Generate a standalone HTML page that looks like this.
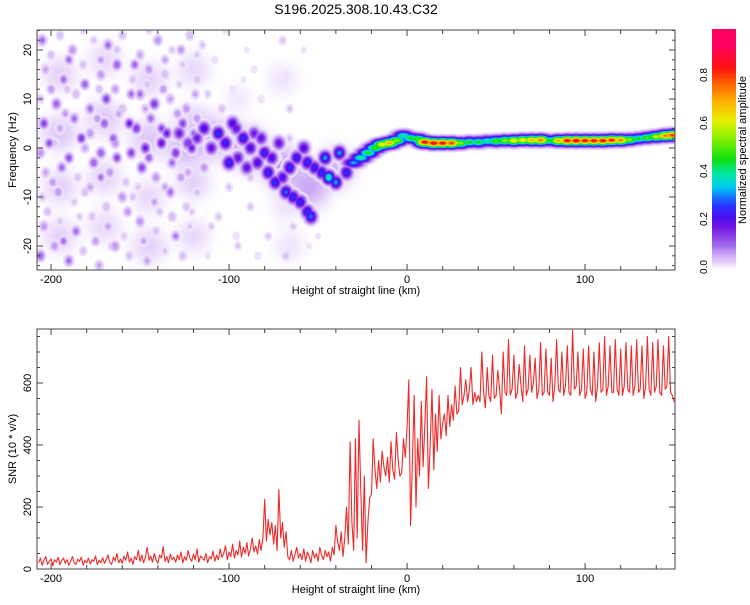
<!DOCTYPE html>
<html><head><meta charset="utf-8"><style>
body{margin:0;background:#fff}
svg text{font-family:"Liberation Sans",sans-serif;fill:#000}
</style></head><body>
<svg id="c" width="750" height="600" viewBox="0 0 750 600" xmlns="http://www.w3.org/2000/svg">
<defs>
<clipPath id="clipTop"><rect x="37" y="30" width="638" height="240"/></clipPath>
<clipPath id="clipBot"><rect x="37" y="329" width="638" height="240"/></clipPath>
<filter id="hazeBlur" x="-50%" y="-50%" width="200%" height="200%"><feGaussianBlur stdDeviation="7"/></filter>
<linearGradient id="cbGrad" x1="0" y1="1" x2="0" y2="0"></linearGradient>
</defs>
<text x="356" y="14" font-size="14" text-anchor="middle">S196.2025.308.10.43.C32</text>
<g clip-path="url(#clipTop)"><g id="hazeMarks" filter="url(#hazeBlur)"></g></g>
<g id="topMarks" clip-path="url(#clipTop)"></g>
<g id="botMarks" clip-path="url(#clipBot)"></g>
<g id="axes"></g>
</svg>
<script>
// ---- data ----
const xTicks=[-200,-100,0,100];
const hzTicks=[-20,-10,0,10,20];
const snrTicks=[0,200,400,600];
const cbTicks=[0.0,0.2,0.4,0.6,0.8];
const hazeKm=[-195,-170,-145,-120,-195,-170,-145,-120,-195,-170,-145,-120,-195,-170,-145,-120,-95,-70,-68,-66,-110,-90,-70,-55,-40,-125];
const hazeHz=[15,18,14,16,3,6,2,5,-8,-6,-10,-7,-18,-16,-20,-18,10,14,-12,-20,2,0,-4,-8,-4,0];
const hazeAmp=[.05,.045,.05,.045,.06,.06,.065,.06,.05,.05,.045,.05,.05,.045,.05,.045,.03,.035,.035,.035,.1,.11,.11,.1,.08,.08];
const bgKm=[-205,-195,-188,-176,-168,-160,-150,-140,-132,-122,-115,
-203,-193,-182,-172,-163,-154,-145,-136,-126,-118,
-206,-197,-186,-178,-169,-160,-150,-142,-133,-124,-112,
-204,-195,-187,-178,-170,-162,-152,-144,-135,-126,-118,
-206,-198,-190,-181,-172,-164,-155,-147,-138,-130,-121,
-203,-194,-185,-176,-167,-158,-149,-141,-132,-123,-114,
-205,-196,-187,-178,-169,-160,-151,-142,-133,-124,
-204,-195,-186,-177,-168,-159,-150,-141,-132,-122,
-206,-198,-190,-182,-173,-164,-156,-146,-136,-126,
-108,-104,-100,-96,-92,-88,-84,-82,-106,-90,
-70,-68,-66,-70,-64,-68,-66,-72,-55,-50,-58];
const bgHz=[22,23,20,22,21,23,19,22,20,23,21,
16,14,17,15,17,14,16,15,17,14,
10,9,11,8,10,8,11,9,10,8,11,
5,4,6,3,5,7,4,6,3,5,6,
-1,1,-2,0,-1,1,-1,0,1,-1,0,
-5,-4,-6,-3,-5,-7,-4,-6,-3,-5,-4,
-10,-9,-11,-8,-12,-10,-8,-11,-9,-12,
-16,-15,-17,-14,-16,-18,-15,-17,-14,-16,
-22,-20,-23,-21,-24,-20,-22,-23,-21,-22,
18,8,-8,-18,14,-12,-22,10,-14,20,
22,15,8,-8,-16,-22,2,-2,-20,-18,20];
const bgAmp=[.12,.06,.1,.05,.12,.06,.08,.1,.05,.07,.05,
.08,.12,.06,.1,.14,.06,.1,.07,.05,.06,
.06,.14,.07,.12,.16,.07,.12,.18,.08,.1,.05,
.16,.08,.12,.1,.14,.08,.18,.12,.2,.16,.1,
.1,.06,.12,.08,.14,.1,.16,.2,.22,.18,.2,
.08,.12,.06,.14,.1,.06,.16,.1,.12,.08,.1,
.06,.1,.05,.08,.07,.1,.05,.08,.12,.06,
.1,.05,.12,.06,.08,.05,.1,.06,.07,.05,
.14,.1,.12,.06,.08,.1,.06,.08,.05,.06,
.04,.06,.05,.04,.03,.05,.04,.04,.05,.03,
.05,.04,.05,.04,.05,.06,.05,.04,.03,.03,.03];
const bg2Km=[-200,-190,-182,-172,-163,-153,-145,-136,-127,-118,-200,-191,-181,-173,-164,-155,-146,-137,-128,-119,-201,-192,-183,-174,-165,-156,-147,-138,-129,-120,-199,-190,-181,-172,-163,-154,-145,-136,-127,-118,-202,-193,-184,-175,-166,-157,-148,-139,-130,-121,-110,-102,-95,-86,-78,-112,-98,-88];
const bg2Hz=[19,18,24,18,20,17,24,18,20,19,12,12,13,12,12,11,13,12,13,11,1,7,2,6,2,5,8,4,7,3,-7,-2,-9,-6,-2,-10,-2,-8,-6,-9,-13,-19,-14,-19,-20,-13,-19,-13,-18,-13,-16,24,-20,16,-18,-22,12,-6];
const bg2Amp=[.07,.12,.05,.09,.06,.13,.05,.08,.1,.05,.1,.06,.14,.07,.09,.12,.06,.1,.05,.08,.15,.09,.18,.1,.14,.2,.08,.16,.1,.12,.1,.15,.07,.12,.16,.06,.14,.08,.1,.06,.07,.12,.05,.09,.06,.1,.08,.06,.11,.05,.05,.04,.05,.04,.05,.04,.04,.06];
const bandKm=[-118,-114,-110,-106,-102,-98,-95,-92,-88,-86,-84,-80,-78,-74,-70,-68,-64,-60,-56,-54,-62,-58,-56,-52,-48,-46,-44,-40,-38,-34,-100,-96,-90,-82,-76,-72,-66,-123,-128];
const bandHz=[2,4,0,3,1,5,-2,2,0,3,-3,-1,-5,-7,-6,-9,-10,-11,-13,-14,-2,0,-3,-4,-5,-2,-6,-7,-1,-5,-3,4,-4,2,-2,1,-4,1,3];
const bandAmp=[.2,.25,.22,.3,.28,.25,.22,.3,.25,.2,.25,.28,.3,.3,.25,.32,.3,.3,.3,.33,.28,.25,.3,.28,.3,.35,.45,.35,.35,.3,.3,.22,.22,.22,.25,.22,.3,.18,.2];
const ridgeKm=[-30,-26,-22,-18,-14,-10,-6,-2,2,6,10,15,20,25,30,35,40,45,50,55,60,65,70,75,80,85,90,95,100,105,110,115,120,125,130,135,140,145,149];
const ridgeHz=[-3,-2,-1,0,0.7,1,1.5,2.5,2,1.8,1.2,1,1,1,1,1.2,1.2,1.4,1.4,1.5,1.5,1.6,1.6,1.6,1.5,1.5,1.5,1.5,1.5,1.5,1.5,1.6,1.6,1.7,1.9,2.1,2.3,2.5,2.6];
const ridgeAmp=[.35,.45,.5,.55,.7,.75,.6,.45,.5,.55,.9,.92,.9,.85,.6,.5,.5,.45,.55,.6,.7,.7,.75,.8,.5,.75,.9,.92,.9,.9,.9,.88,.8,.6,.5,.55,.65,.8,.85];
const snrStart=-207;
const snrValues=[20,35,12,28,40,15,25,33,10,30,22,38,14,27,35,18,30,12,25,40,20,15,32,24,38,12,28,20,35,16,30,25,42,14,28,20,36,
18,30,45,22,15,38,26,50,20,32,18,42,28,55,22,35,15,40,30,60,25,45,20,38,70,28,42,22,50,30,18,45,35,72,25,40,20,48,30,38,
22,45,30,55,20,40,28,60,35,25,48,30,65,22,42,35,28,50,20,40,32,58,25,45,30,65,38,50,75,30,
55,40,80,35,60,45,90,38,70,50,85,42,65,100,55,75,48,95,60,100,
225,90,160,110,150,80,140,60,255,100,
150,70,120,40,30,60,25,45,70,35,
50,30,65,25,55,40,20,60,35,50,25,70,45,30,60,40,55,25,70,45,
140,90,60,120,40,100,200,80,410,150,60,420,100,480,250,60,300,20,150,230,
240,420,320,260,350,280,380,330,300,360,280,410,320,290,440,350,300,310,420,360,
460,610,140,350,560,200,420,300,540,330,470,620,260,400,580,320,500,380,560,420,
470,500,430,560,460,530,480,590,500,510,650,530,560,610,540,580,650,530,570,540,
560,540,700,570,520,650,560,540,690,550,560,640,580,500,700,570,560,740,560,580,690,550,570,660,590,540,720,560,580,690,570,600,680,550,580,730,560,570,710,570,560,680,540,590,740,580,570,700,560,590,720,570,560,770,580,590,700,560,580,710,550,570,720,580,560,700,540,590,730,570,580,750,560,590,720,570,570,740,580,560,710,560,590,730,580,570,720,560,590,740,570,580,720,550,590,750,580,560,730,570,590,740,570,560,720,580,590,750,570,560,540];
// ---- scales ----
const NS='http://www.w3.org/2000/svg';
const X=km=>37+(km+207.9)*1.78;
const YT=hz=>148-hz*4.9;
const YB=v=>569-v*0.31;
const CB=v=>267-v*240;
const levels=[[0.02,'#efe3fc'],[0.04,'#dcc4f8'],[0.07,'#c59cf3'],[0.1,'#a46ced'],[0.14,'#8a3fe8'],[0.18,'#6d14e4'],[0.22,'#4a10ee'],[0.26,'#2a2cff'],[0.3,'#1870ff'],[0.34,'#00c8f4'],[0.4,'#00e8a0'],[0.46,'#10e010'],[0.54,'#80ee00'],[0.62,'#e8f000'],[0.7,'#ffb000'],[0.78,'#ff5a00'],[0.84,'#ff1010'],[0.93,'#ff0060']];
function mk(tag,attrs,parent){const e=document.createElementNS(NS,tag);for(const k in attrs)e.setAttribute(k,attrs[k]);parent.appendChild(e);return e;}
const topG=document.getElementById('topMarks'),hazeG=document.getElementById('hazeMarks'),botG=document.getElementById('botMarks'),ax=document.getElementById('axes');
// ---- spectrogram blobs ----
const groups=[[hazeKm,hazeHz,hazeAmp,14,14,'haze-blob',hazeG],[bgKm,bgHz,bgAmp,3.2,3.8,'bg-blob',topG],[bg2Km,bg2Hz,bg2Amp,3,3.5,'bg-blob',topG],[bandKm,bandHz,bandAmp,4,4.5,'band-blob',topG],[ridgeKm,ridgeHz,ridgeAmp,7,3.5,'ridge-blob',topG]];
levels.forEach(([L,col])=>{
  groups.forEach(([ks,hs,as,sx,sy,name,parent])=>{
    ks.forEach((k,i)=>{
      const a=as[i];if(a<=L)return;
      const f=Math.sqrt(2*Math.log(a/L));
      const e=mk('ellipse',{cx:X(k),cy:YT(hs[i]),rx:sx*f,ry:sy*f,fill:col},parent);
      
      
    });
  });
});
// ---- SNR line ----
const pts=snrValues.map((v,i)=>X(snrStart+i).toFixed(1)+','+YB(v).toFixed(1)).join(' ');
const pl=mk('polyline',{points:pts,fill:'none',stroke:'#ee2a2a','stroke-width':1.1,'stroke-linejoin':'round'},botG);


// ---- axes ----
function frame(y0,y1,name){
  const r=mk('rect',{x:37,y:y0,width:638,height:y1-y0,fill:'none',stroke:'#444','stroke-width':1},ax);
  
  
  for(let k=-200;k<=140;k+=20){
    const x=X(k),len=(k%100===0)?6:4;
    mk('line',{x1:x,y1:y1,x2:x,y2:y1-len,stroke:'#444'},ax);
    mk('line',{x1:x,y1:y0,x2:x,y2:y0+len,stroke:'#444'},ax);
  }
  xTicks.forEach(k=>{
    const t=mk('text',{x:X(k),y:y1+13,'font-size':11,'text-anchor':'middle'},ax);t.textContent=k;
    
    
  });
  const xl=mk('text',{x:356,y:y1+24,'font-size':11,'text-anchor':'middle'},ax);xl.textContent='Height of straight line (km)';
  
  
}
frame(30,270,'spectrogram-frame');
frame(329,569,'snr-frame');
for(let h=-24;h<=24;h+=2){const y=YT(h),len=(h%10===0)?6:3;
  mk('line',{x1:37,y1:y,x2:37+len,y2:y,stroke:'#444'},ax);mk('line',{x1:675,y1:y,x2:675-len,y2:y,stroke:'#444'},ax);}
hzTicks.forEach(h=>{const t=mk('text',{x:0,y:0,'font-size':11,'text-anchor':'middle',transform:`translate(31,${YT(h)}) rotate(-90)`},ax);t.textContent=h;
  
  });
const yl=mk('text',{x:0,y:0,'font-size':11,'text-anchor':'middle',transform:'translate(16,150) rotate(-90)'},ax);yl.textContent='Frequency (Hz)';


for(let v=0;v<=750;v+=50){const y=YB(v),len=(v%200===0)?6:3;
  mk('line',{x1:37,y1:y,x2:37+len,y2:y,stroke:'#444'},ax);mk('line',{x1:675,y1:y,x2:675-len,y2:y,stroke:'#444'},ax);}
snrTicks.forEach(v=>{const t=mk('text',{x:0,y:0,'font-size':11,'text-anchor':'middle',transform:`translate(31,${YB(v)}) rotate(-90)`},ax);t.textContent=v;
  
  });
const yl2=mk('text',{x:0,y:0,'font-size':11,'text-anchor':'middle',transform:'translate(16,449) rotate(-90)'},ax);yl2.textContent='SNR (10 * v/v)';


// ---- colorbar ----
const g=document.getElementById('cbGrad');
mk('stop',{offset:'0','stop-color':'#ffffff'},g);
levels.forEach(([L,col])=>mk('stop',{offset:(L/1.0).toFixed(3),'stop-color':col},g));
mk('stop',{offset:'1','stop-color':'#ff0060'},g);
const cb=mk('rect',{x:712,y:29,width:24,height:241,fill:'url(#cbGrad)'},ax);


cbTicks.forEach(v=>{const t=mk('text',{x:0,y:0,'font-size':10,'text-anchor':'middle',transform:`translate(707,${CB(v)}) rotate(-90)`},ax);t.textContent=v.toFixed(1);
  
  });
const cl=mk('text',{x:0,y:0,'font-size':11,'text-anchor':'middle',transform:'translate(746,150) rotate(-90)'},ax);cl.textContent='Normalized spectral amplitude';


</script>
</body></html>
